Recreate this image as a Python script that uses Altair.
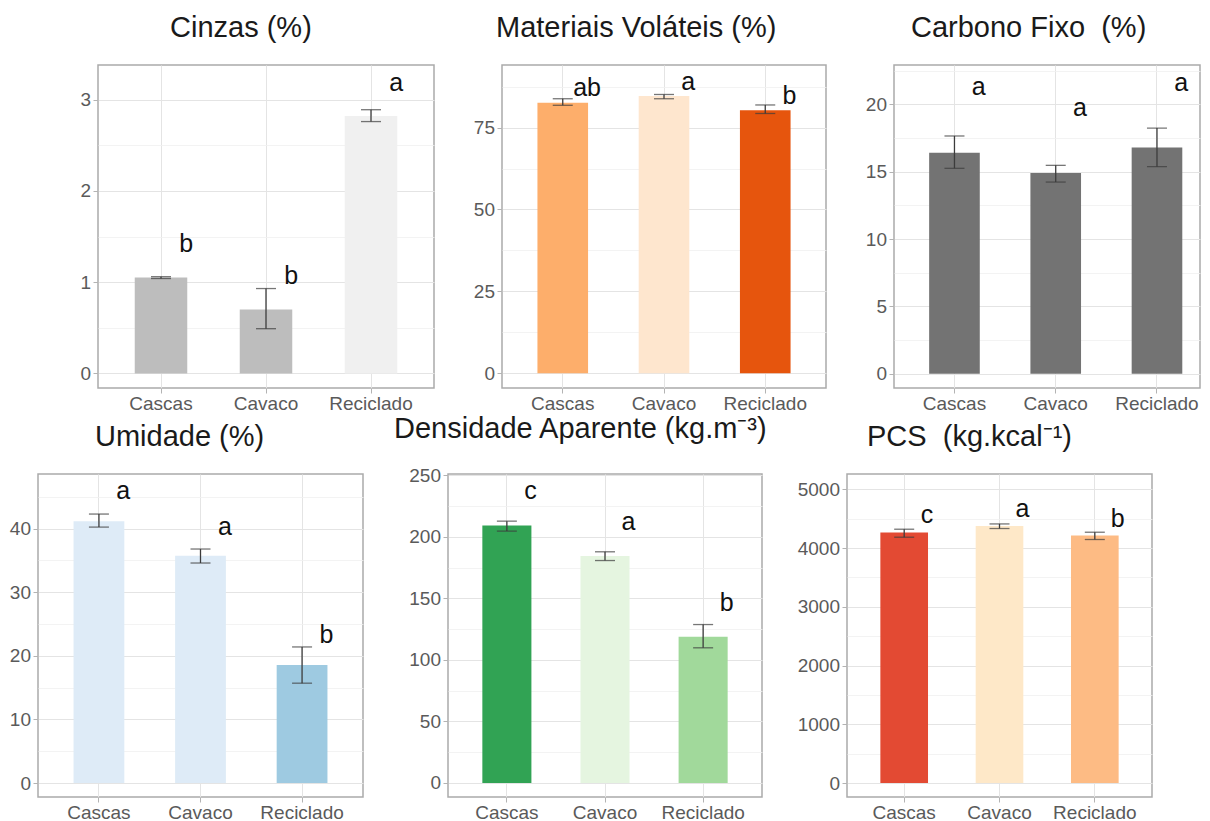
import altair as alt
import pandas as pd

CATS = ["Cascas", "Cavaco", "Reciclado"]

# Cinzas (%)
CIN_MEAN = [1.05, 0.70, 2.82]
CIN_LO = [1.04, 0.49, 2.76]
CIN_HI = [1.06, 0.93, 2.89]
CIN_LET = ["b", "b", "a"]
CIN_LET_Y = [1.33, 0.98, 3.10]

# Materiais Voláteis (%)
VOL_MEAN = [82.6, 84.6, 80.3]
VOL_LO = [81.8, 83.8, 79.3]
VOL_HI = [83.8, 85.1, 81.9]
VOL_LET = ["ab", "a", "b"]
VOL_LET_Y = [84.6, 86.4, 82.3]

# Carbono Fixo (%)
CF_MEAN = [16.4, 14.9, 16.8]
CF_LO = [15.25, 14.23, 15.37]
CF_HI = [17.65, 15.47, 18.24]
CF_LET = ["a", "a", "a"]
CF_LET_Y = [20.7, 19.1, 21.0]

# Umidade (%)
UMI_MEAN = [41.15, 35.74, 18.55]
UMI_LO = [40.25, 34.6, 15.7]
UMI_HI = [42.3, 36.8, 21.4]
UMI_LET = ["a", "a", "b"]
UMI_LET_Y = [44.65, 39.0, 22.0]

# Densidade Aparente (kg.m-3)
DEN_MEAN = [209.2, 184.3, 118.7]
DEN_LO = [204.6, 180.7, 109.8]
DEN_HI = [212.7, 187.8, 128.7]
DEN_LET = ["c", "a", "b"]
DEN_LET_Y = [230.9, 205.9, 140.1]

# PCS (kg.kcal-1)
PCS_MEAN = [4264, 4376, 4213]
PCS_LO = [4184, 4332, 4145]
PCS_HI = [4320, 4410, 4269]
PCS_LET = ["c", "a", "b"]
PCS_LET_Y = [4433, 4535, 4366]

FONT = "Liberation Sans"
EC = "#3c3c3c"


def panel(title, tdx, mean, lo, hi, letters, lety, colors, domain, ticks, minor,
          width, height, step=None, pad_outer=0.35, align=0.5):
    df = pd.DataFrame({"cat": CATS, "mean": mean, "lo": lo, "hi": hi, "let": letters, "ly": lety})
    if step is None:
        step = width / 3.2
    xaxis = alt.Axis(title=None, labelAngle=0, grid=True, labelPadding=1, domain=False)
    xenc = alt.X("cat:N", sort=CATS,
                 scale=alt.Scale(paddingInner=0.5, paddingOuter=pad_outer, align=align),
                 axis=xaxis)
    ysc = alt.Scale(domain=domain, nice=False, zero=False)
    base = alt.Chart(df)
    bars = base.mark_bar().encode(
        x=xenc,
        y=alt.Y("mean:Q", scale=ysc,
                axis=alt.Axis(values=ticks, title=None, grid=True, labelPadding=2.5,
                              domain=False, format="d")),
        color=alt.Color("cat:N", scale=alt.Scale(domain=CATS, range=colors), legend=None),
    )
    rule = base.mark_rule(color=EC, strokeWidth=1.3).encode(
        x=xenc, y=alt.Y("lo:Q", scale=ysc, axis=None), y2="hi:Q")
    cap_lo = base.mark_tick(color=EC, thickness=1.3, size=20).encode(
        x=xenc, y=alt.Y("lo:Q", scale=ysc, axis=None))
    cap_hi = base.mark_tick(color=EC, thickness=1.3, size=20).encode(
        x=xenc, y=alt.Y("hi:Q", scale=ysc, axis=None))
    txt = base.mark_text(dx=0.24 * step, fontSize=25, font=FONT, color="#111111",
                         baseline="alphabetic", align="center").encode(
        x=xenc,
        y=alt.Y("ly:Q", scale=ysc,
                axis=alt.Axis(values=minor, orient="left", labels=False, ticks=False, domain=False,
                              grid=True, gridColor="#f0f0f0", gridWidth=0.8, title=None)),
        text="let:N",
    )
    return alt.layer(bars, rule, cap_lo, cap_hi, txt).resolve_axis(y="independent").properties(
        width=width, height=height,
        title=alt.TitleParams(title, anchor="start", frame="group", dx=tdx, offset=-1,
                              baseline="alphabetic", fontSize=29, font=FONT,
                              fontWeight="normal", color="#1a1a1a"),
    )


H = 323
p1 = panel("Cinzas (%)", 72, CIN_MEAN, CIN_LO, CIN_HI, CIN_LET, CIN_LET_Y,
           ["#bdbdbd", "#bdbdbd", "#f0f0f0"], [-0.16, 3.38], [0, 1, 2, 3],
           [0.5, 1.5, 2.5], 336, H)
p2 = panel("Materiais Voláteis (%)", -6, VOL_MEAN, VOL_LO, VOL_HI, VOL_LET, VOL_LET_Y,
           ["#fdae6b", "#fee6ce", "#e6550d"], [-4.5, 94.1], [0, 25, 50, 75],
           [12.5, 37.5, 62.5, 87.5], 324, H)
# the right part of this panel is cut by the picture's edge
p3 = panel("Carbono Fixo \u00a0(%)", 17, CF_MEAN, CF_LO, CF_HI, CF_LET, CF_LET_Y,
           ["#737373", "#737373", "#737373"], [-1.06, 22.92], [0, 5, 10, 15, 20],
           [2.5, 7.5, 12.5, 17.5, 22.5], 306, H, step=101.25, pad_outer=0.261, align=0.665)
p4 = panel("Umidade (%)", 57, UMI_MEAN, UMI_LO, UMI_HI, UMI_LET, UMI_LET_Y,
           ["#deebf7", "#deebf7", "#9ecae1"], [-2.2, 48.6], [0, 10, 20, 30, 40],
           [5, 15, 25, 35, 45], 325, H)
p5 = panel("Densidade Aparente (kg.m\u207b\u00b3)", -54, DEN_MEAN, DEN_LO, DEN_HI, DEN_LET, DEN_LET_Y,
           ["#31a354", "#e5f5e0", "#a1d99b"], [-11.4, 251], [0, 50, 100, 150, 200, 250],
           [25, 75, 125, 175, 225], 314, H)
p6 = panel("PCS \u00a0(kg.kcal\u207b\u00b9)", 20, PCS_MEAN, PCS_LO, PCS_HI, PCS_LET, PCS_LET_Y,
           ["#e34a33", "#fee8c8", "#fdbb84"], [-238, 5260], [0, 1000, 2000, 3000, 4000, 5000],
           [500, 1500, 2500, 3500, 4500], 305, H)

spacer = alt.Chart(pd.DataFrame({"s": [0]})).mark_point(opacity=0).encode(
    x=alt.value(0), y=alt.value(0)
).properties(width=60, height=1, view=alt.ViewBackground(stroke=None))

row1_inner = alt.hconcat(p1, p2, p3, spacing=68, bounds="flush").resolve_scale(color="independent")
row1 = alt.hconcat(spacer, row1_inner, spacing=0, bounds="flush").resolve_scale(color="independent")
row2 = alt.hconcat(p4, p5, p6, spacing=85, bounds="flush").resolve_scale(color="independent")

chart = alt.vconcat(row1, row2, spacing=0).resolve_scale(color="independent").properties(
    padding={"left": 0, "top": 5, "right": 0, "bottom": 0}
).configure_view(
    stroke="#aaaaaa", strokeWidth=1.5
).configure_axis(
    labelFont=FONT, labelFontSize=19, labelColor="#5a5a5a",
    tickColor="#b3b3b3", tickWidth=1, tickSize=5,
    gridColor="#e4e4e4", gridWidth=1,
)

chart.save("out.html", embed_options={"renderer": "svg", "actions": False})
